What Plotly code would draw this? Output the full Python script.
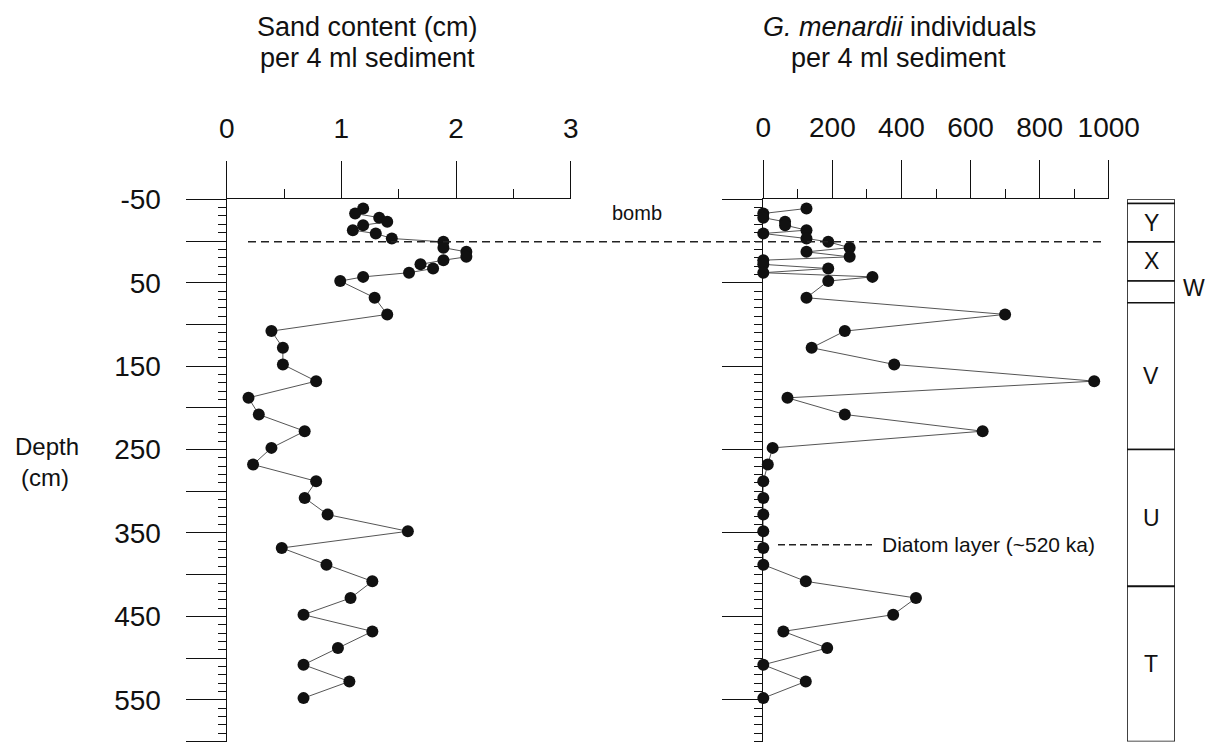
import plotly.graph_objects as go

# ---------------- data ----------------
depth_cm = [-39, -33, -28, -23, -19, -13, -9, -3, 1, 8, 13, 19, 23, 28, 33, 38, 43, 48,
            68, 88, 108, 128, 148, 168, 188, 208, 228, 248, 268, 288, 308, 328, 348,
            368, 388, 408, 428, 448, 468, 488, 508, 528, 548]
sand_content = [1.19, 1.12, 1.33, 1.40, 1.19, 1.10, 1.30, 1.44, 1.89, 1.89, 2.09, 2.09,
                1.89, 1.69, 1.80, 1.59, 1.19, 0.99, 1.29, 1.40, 0.39, 0.49, 0.49, 0.78,
                0.19, 0.28, 0.68, 0.39, 0.23, 0.78, 0.68, 0.88, 1.58, 0.48, 0.87, 1.27,
                1.08, 0.67, 1.27, 0.97, 0.67, 1.07, 0.67]
menardii_count = [125, 0, 0, 63, 63, 125, 0, 125, 188, 250, 125, 250, 0, 0, 188, 0, 316,
                  188, 125, 700, 236, 140, 379, 958, 70, 236, 635, 27, 13, 0, 0, 0, 0, 0,
                  0, 123, 442, 376, 58, 185, 0, 123, 0]

zone_names = ["Z", "Y", "X", "W", "V", "U", "T"]
zone_bounds = [-50, -45, 1, 48, 74, 250, 414, 600]

bomb_depth = 1
diatom_depth = 364

sand_ticks = [0, 1, 2, 3]
sand_minor = [0.5, 1.5, 2.5]
menardii_ticks = [0, 200, 400, 600, 800, 1000]
menardii_minor = [100, 300, 500, 700, 900]
depth_labels = [-50, 50, 150, 250, 350, 450, 550]
depth_range = [600, -50]

# ---------------- layout helpers ----------------
W, H = 1217, 743
OX, OY = 8, 8  # page body margin


def px(x):
    return (x - OX) / W


def py(y):
    return 1 - (y - OY) / H


FONT = "Liberation Sans, Arial, sans-serif"
BLACK = "#111111"

zone_tops = zone_bounds[:-1]
zone_heights = [b - a for a, b in zip(zone_bounds[:-1], zone_bounds[1:])]

fig = go.Figure()

marker = dict(size=12, color=BLACK, line=dict(width=0))
conn = dict(color="#555555", width=1)

fig.add_trace(go.Scatter(x=sand_content, y=depth_cm, mode="lines+markers",
                         xaxis="x", yaxis="y", line=conn, marker=marker,
                         cliponaxis=False, showlegend=False))
fig.add_trace(go.Scatter(x=menardii_count, y=depth_cm, mode="lines+markers",
                         xaxis="x2", yaxis="y2", line=conn, marker=marker,
                         cliponaxis=False, showlegend=False))
fig.add_trace(go.Bar(x=[0] * len(zone_names), y=zone_heights, base=zone_tops,
                     xaxis="x3", yaxis="y3", width=1,
                     marker=dict(color="white", line=dict(color=BLACK, width=1.6)),
                     showlegend=False, hoverinfo="skip"))

major_depth = list(range(-50, 601, 50))
depth_text = [str(v) if v in depth_labels else "" for v in major_depth]

TICKF = 28
ydom = [py(741.5), py(199.3)]
common_y = dict(domain=ydom, range=depth_range, showgrid=False, zeroline=False,
                showline=True, linecolor=BLACK, linewidth=1.3,
                ticks="outside", ticklen=40, tickwidth=1.2, tickcolor=BLACK,
                tickvals=major_depth, ticktext=depth_text,
                minor=dict(dtick=10, tick0=0, ticks="outside", ticklen=8,
                           tickwidth=1, tickcolor=BLACK),
                automargin=False)

fig.update_layout(
    width=W, height=H,
    margin=dict(l=0, r=0, t=0, b=0, pad=0),
    paper_bgcolor="white", plot_bgcolor="rgba(0,0,0,0)",
    font=dict(family=FONT, color=BLACK),
    barmode="overlay",
    xaxis=dict(domain=[px(226.7), px(570.7)], range=[0, 3], side="top", anchor="y",
               showgrid=False, zeroline=False, showline=True, linecolor=BLACK,
               linewidth=1.3, ticks="outside", ticklen=37, tickwidth=1.2,
               tickcolor=BLACK, tickvals=sand_ticks,
               minor=dict(tickvals=sand_minor, ticks="outside", ticklen=9,
                          tickwidth=1, tickcolor=BLACK),
               tickfont=dict(size=TICKF), ticklabelstandoff=12, automargin=False),
    yaxis=dict(anchor="x", tickfont=dict(size=TICKF), ticklabelstandoff=19, **common_y),
    xaxis2=dict(domain=[px(763.3), px(1108.7)], range=[0, 1000], side="top",
                anchor="y2", showgrid=False, zeroline=False, showline=True,
                linecolor=BLACK, linewidth=1.3, ticks="outside", ticklen=38,
                tickwidth=1.2, tickcolor=BLACK, tickvals=menardii_ticks,
                minor=dict(tickvals=menardii_minor, ticks="outside", ticklen=9,
                           tickwidth=1, tickcolor=BLACK),
                tickfont=dict(size=TICKF), ticklabelstandoff=12, automargin=False),
    yaxis2=dict(anchor="x2", matches="y", showticklabels=False, **common_y),
    xaxis3=dict(domain=[px(1127), px(1175)], range=[-0.5, 0.5], anchor="y3",
                visible=False),
    yaxis3=dict(domain=ydom, range=depth_range, anchor="x3", matches="y",
                visible=False),
)

# bomb horizon
fig.add_shape(type="line", xref="paper", yref="y", x0=px(248), x1=px(1102),
              y0=bomb_depth, y1=bomb_depth,
              line=dict(color="#222222", width=1.5, dash="8px,5px"))
fig.add_annotation(text="bomb", xref="paper", yref="y", x=px(637), y=-33,
                   showarrow=False, font=dict(size=20), xanchor="center",
                   yanchor="middle")

# diatom layer
fig.add_shape(type="line", xref="paper", yref="y2", x0=px(778), x1=px(872),
              y0=diatom_depth, y1=diatom_depth,
              line=dict(color="#222222", width=1.5, dash="7px,4px"))
fig.add_annotation(text="Diatom layer (~520 ka)", xref="paper", yref="y2",
                   x=px(880), y=diatom_depth, showarrow=False,
                   font=dict(size=21), xanchor="left", yanchor="middle")

# zone labels
for name, top, h in zip(zone_names, zone_tops, zone_heights):
    mid = top + h / 2
    if h < 30:
        fig.add_annotation(text=name, xref="paper", yref="y3", x=px(1194),
                           y=mid - 5, showarrow=False, font=dict(size=23),
                           xanchor="center", yanchor="middle")
    else:
        fig.add_annotation(text=name, xref="x3", yref="y3", x=0, y=mid,
                           showarrow=False, font=dict(size=23),
                           xanchor="center", yanchor="middle")

# titles
title_font = dict(size=27)
for txt, x, y in [("Sand content (cm)", 367, 27), ("per 4 ml sediment", 367, 58),
                  ("<i>G. menardii</i> individuals", 900, 27),
                  ("per 4 ml sediment", 898, 58)]:
    fig.add_annotation(text=txt, xref="paper", yref="paper", x=px(x), y=py(y),
                       showarrow=False, font=title_font, xanchor="center",
                       yanchor="middle")

# depth axis label
for txt, x, y in [("Depth", 47, 446), ("(cm)", 45, 477)]:
    fig.add_annotation(text=txt, xref="paper", yref="paper", x=px(x), y=py(y),
                       showarrow=False, font=dict(size=24), xanchor="center",
                       yanchor="middle")

fig.write_html("out.html")
